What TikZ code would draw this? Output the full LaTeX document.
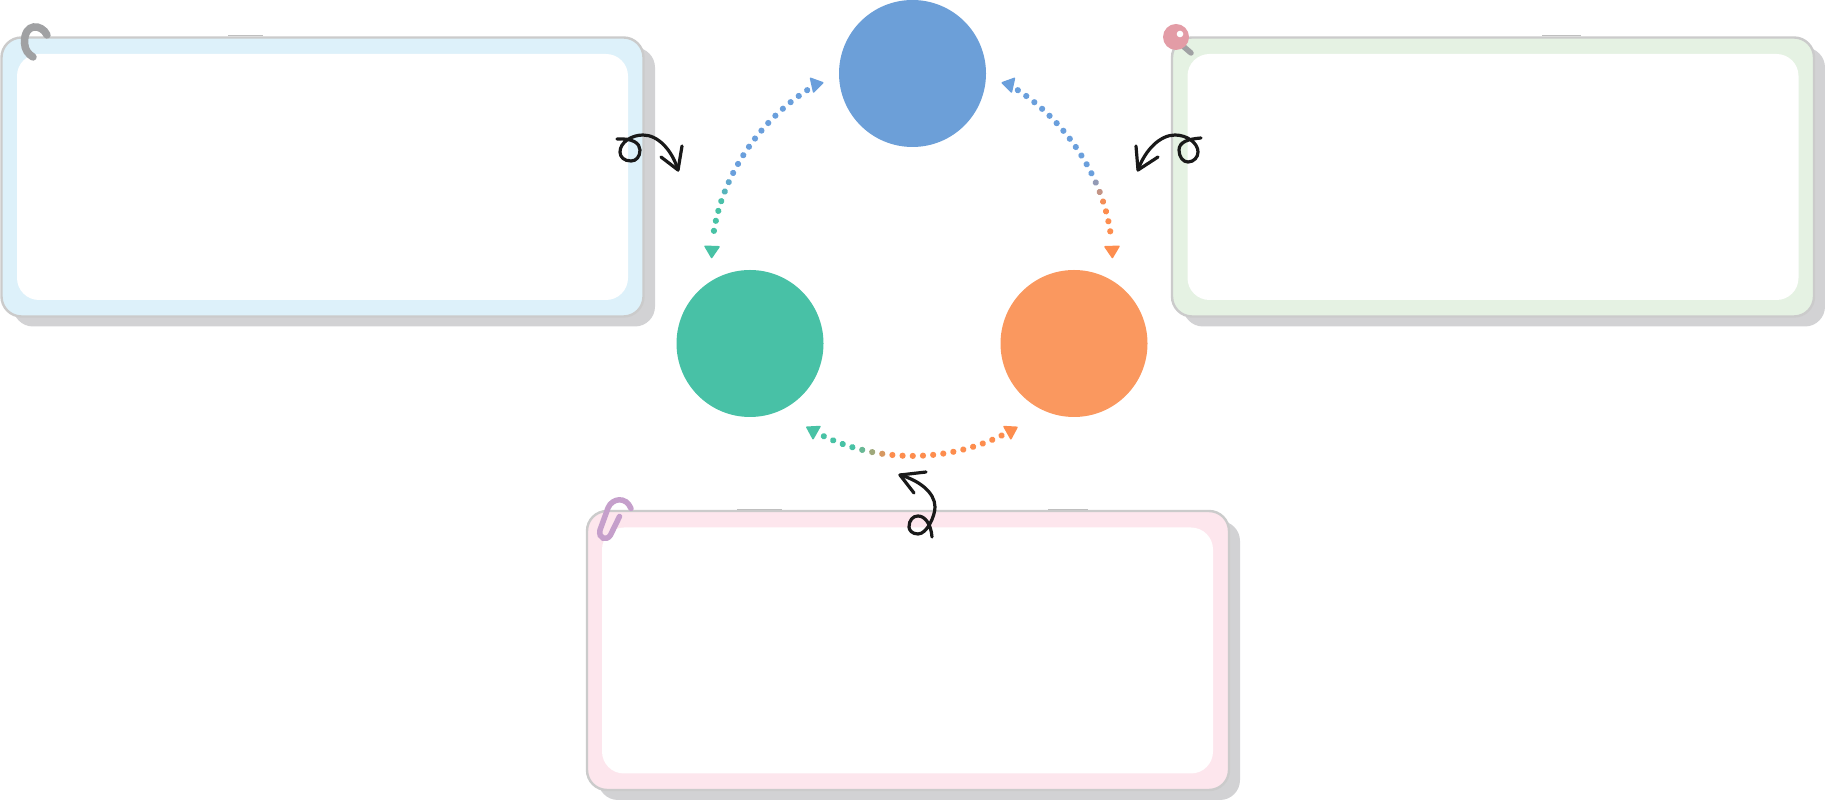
\documentclass[tikz,border=0pt]{standalone}
\usetikzlibrary{decorations.markings}
\definecolor{ballblue}{HTML}{6C9FD8}
\definecolor{ballgreen}{HTML}{48C1A6}
\definecolor{ballorange}{HTML}{FA985F}
\definecolor{dotblue}{HTML}{6A9FDC}
\definecolor{dotgreen}{HTML}{48C2A5}
\definecolor{dotorange}{HTML}{FD8D4E}
\definecolor{tintblue}{HTML}{DDF1FA}
\definecolor{tintgreen}{HTML}{E5F2E3}
\definecolor{tintpink}{HTML}{FDE6ED}
\definecolor{cardedge}{HTML}{CBCBCB}
\definecolor{cardshade}{HTML}{D2D2D4}
\definecolor{clipgray}{HTML}{A0A1A3}
\definecolor{pinrose}{HTML}{E39CA6}
\definecolor{cliplilac}{HTML}{C59FCB}
\tikzset{
    ball/.style={circle, minimum size=147pt, inner sep=0pt, outer sep=0pt},
    cardshadow/.style={rectangle, rounded corners=20pt, fill=cardshade, minimum width=642pt, minimum height=279pt, inner sep=0pt},
    cardback/.style={rectangle, rounded corners=20pt, draw=cardedge, line width=2.4pt, fill=#1, minimum width=642pt, minimum height=279pt, inner sep=0pt},
    cardface/.style={rectangle, rounded corners=22pt, fill=white, minimum width=611pt, minimum height=246pt, inner sep=0pt},
    seamtick/.style={draw=black!25, line width=1pt},
    scribble/.style={draw=black!90, line width=3.2pt, line cap=round, line join=round},
    dotarc/.style n args={5}{postaction={decorate}, decoration={markings,
        mark=at position #3pt with {\fill[#1, draw=#1, line width=1.5pt, line join=round, rotate=#5] (-5.5,0) -- (5.5,7) -- (5.5,-7) -- cycle;},
        mark=between positions #3pt+12pt and -#4pt-12pt step 10.2pt with {
            \pgfmathsetmacro\mixval{100*max(0,min(1,(\pgfkeysvalueof{/pgf/decoration/mark info/distance from start}/\pgfdecoratedpathlength-0.58)/0.12))}
            \fill[#2!\mixval!#1] (0,0) circle (3.1pt);},
        mark=at position -#4pt with {\fill[#2, draw=#2, line width=1.5pt, line join=round] (5.5,0) -- (-5.5,7) -- (-5.5,-7) -- cycle;}}}
}
\begin{document}
\begin{tikzpicture}[x=1pt, y=1pt]
    \useasboundingbox (0,0) rectangle (1825,800);

    \node[cardshadow] (infoshadow) at (334,613) {};
    \node[cardback=tintblue] (infocard) at (322.5,623) {};
    \node[cardface] (infoface) at (322.5,623) {};
    \draw[seamtick] (228,764) -- (263,764);

    \node[cardshadow] (noteshadow) at (1504,613) {};
    \node[cardback=tintgreen] (notecard) at (1493,623) {};
    \node[cardface] (noteface) at (1493,623) {};
    \draw[seamtick] (1542,764) -- (1581,764);

    \node[cardshadow] (paneshadow) at (919,139.5) {};
    \node[cardback=tintpink] (panecard) at (908,149.5) {};
    \node[cardface] (paneface) at (907.5,149.5) {};
    \draw[seamtick] (737,290) -- (782,290);
    \draw[seamtick] (1048,290) -- (1088,290);

    \node[ball, fill=ballblue] (topball) at (912.5,726.5) {};
    \node[ball, fill=ballgreen] (leftball) at (750,456.5) {};
    \node[ball, fill=ballorange] (rightball) at (1074,456.5) {};

    \path[dotarc={dotblue}{dotgreen}{24}{28}{-17}] (topball.180) to[out=202, in=98, looseness=0.9] (leftball.120);
    \path[dotarc={dotblue}{dotorange}{24}{28}{17}] (topball.0) to[out=-22, in=82, looseness=0.9] (rightball.60);
    \path[dotarc={dotorange}{dotgreen}{36}{36}{0}] (rightball.244) to[out=220, in=-40, looseness=0.95] (leftball.296);

    \draw[scribble] (617,661) .. controls (632,662) and (640,657) .. (640,650) .. controls (640,643) and (636,639) .. (631,639) .. controls (624,639) and (620,643) .. (620,648) .. controls (620,658) and (632,665) .. (643,665) .. controls (658,665) and (672,650) .. (678,630);
    \draw[scribble] (661,643) -- (678,630) -- (682,654);

    \draw[scribble] (1201,662) .. controls (1188,661) and (1179,658) .. (1179,650) .. controls (1179,643) and (1183,638) .. (1188,638) .. controls (1194,638) and (1198,643) .. (1198,648) .. controls (1198,657) and (1187,665) .. (1175,665) .. controls (1160,665) and (1145,650) .. (1138,630);
    \draw[scribble] (1158,643) -- (1138,630) -- (1136,654);

    \draw[scribble] (900,325) .. controls (918,320) and (935,308) .. (935,293) .. controls (935,284) and (927,266) .. (918,266) .. controls (912,266) and (909,270) .. (909,273) .. controls (909,280) and (913,284) .. (918,284) .. controls (925,284) and (931,276) .. (932,263);
    \draw[scribble] (926,328) -- (900,325) -- (914,307);

    \draw[clipgray, line width=7.5pt, line cap=round] (47,765) .. controls (42,776) and (24,778) .. (24.5,757) .. controls (25,750) and (28,746) .. (33,743);

    \draw[clipgray, line width=5.5pt, line cap=round] (1184,753) -- (1191,747);
    \fill[pinrose] (1176,763) circle (13pt);
    \fill[white] (1180,766) circle (3.3pt);

    \draw[cliplilac, line width=5.5pt, line cap=round] (619.5,283.5) -- (610.5,265) .. controls (607,259) and (598,261) .. (600,270) -- (608,292) .. controls (612,302) and (626,304) .. (631,291.5);
\end{tikzpicture}
\end{document}
